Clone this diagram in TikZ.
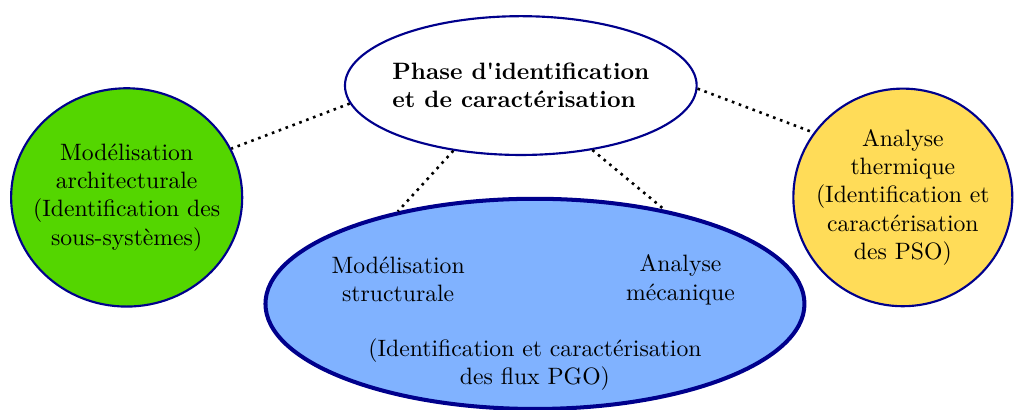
\documentclass[tikz,border=0pt]{standalone}
\usepackage{tikz}
\usetikzlibrary{
  shapes.geometric,
  positioning
}
\definecolor{xnavy}{RGB}{0,0,140}
\definecolor{xgreen}{RGB}{84,214,0}
\definecolor{xsky}{RGB}{128,178,255}
\definecolor{xsun}{RGB}{255,220,88}

\begin{document}
\begin{tikzpicture}[
  phase/.style={
    ellipse, draw=xnavy, fill=#1, line width=0.9pt,
    inner sep=-1cm, align=center, font=\normalsize
  },
  link/.style={dotted, line width=1.1pt, color=black},
  label/.style={align=center, inner sep=1pt}
]
  \useasboundingbox (0,0) rectangle (15.05,6.08);

  \node[phase=white, minimum width=5.22cm, minimum height=2.06cm, align=left,
        font=\bfseries] (P) at (7.73,4.81)
    {Phase d\textquotesingle identification\\et de caractérisation};
  \node[phase=xgreen, minimum width=3.43cm, minimum height=3.24cm] (M) at (1.88,3.15)
    {Modélisation\\architecturale\\(Identification des\\sous-systèmes)};
  \node[phase=xsun, minimum width=3.25cm, minimum height=3.23cm] (T) at (13.40,3.15)
    {Analyse\\thermique\\(Identification et\\caractérisation\\des PSO)};
  \node[phase=xsky, line width=1.7pt, minimum width=8.0cm, minimum height=3.12cm] (F)
    at (7.94,1.57) {};

  \node[label] (S) at (5.91,1.93) {Modélisation\\structurale};
  \node[label] (A) at (10.10,1.93) {Analyse\\mécanique};
  \node[label] (G) at (7.94,0.67) {(Identification et caractérisation\\des flux PGO)};

  \draw[link] (P.186) -- (M.25);
  \draw[link] (P.224) -- (F.146);
  \draw[link] (P.318) -- (F.36);
  \draw[link] (P.359) -- (T.144);
\end{tikzpicture}
\end{document}
